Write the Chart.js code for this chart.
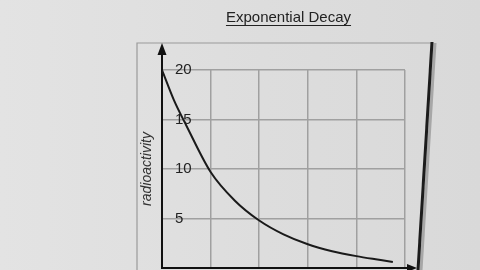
<!DOCTYPE html>
<html>
<head>
<meta charset="utf-8">
<script src="https://cdn.jsdelivr.net/npm/chart.js@4"></script>
<style>
html, body { margin: 0; padding: 0; }
body {
    width: 480px; height: 270px; overflow: hidden;
    background: linear-gradient(90deg, #e3e3e3 0%, #dddddd 55%, #d9d9d9 100%);
}
</style>
</head>
<body>
<canvas id="grafico" width="480" height="270"></canvas>
<script>
// dados
const tempo = [0, 0.25, 0.5, 1, 1.5, 2, 2.5, 3, 3.5, 4, 4.5, 4.75];
const atividade = [20, 16.9, 14.4, 9.7, 6.8, 4.8, 3.4, 2.4, 1.7, 1.2, 0.8, 0.6];
const yTicks = [5, 10, 15, 20];
const titulo = 'Exponential Decay';
const tituloY = 'radioactivity';

const fonte = 'Liberation Sans, Arial, sans-serif';

// moldura, setas e titulo sublinhado
const extras = {
    id: 'extras',
    beforeDraw(chart) {
        const { ctx, chartArea: a } = chart;
        ctx.save();
        ctx.strokeStyle = '#9a9a9a';
        ctx.lineWidth = 1.2;
        ctx.beginPath();
        ctx.moveTo(a.left - 25, chart.height);
        ctx.lineTo(a.left - 25, a.top - 27);
        ctx.lineTo(a.right + 27, a.top - 27);
        ctx.stroke();
        ctx.restore();
    },
    afterDraw(chart) {
        const { ctx, chartArea: a } = chart;
        ctx.save();
        // seta do eixo y
        ctx.strokeStyle = '#111';
        ctx.fillStyle = '#111';
        ctx.lineWidth = 2;
        ctx.beginPath();
        ctx.moveTo(a.left, a.top);
        ctx.lineTo(a.left, a.top - 18);
        ctx.stroke();
        ctx.beginPath();
        ctx.moveTo(a.left, a.top - 27);
        ctx.lineTo(a.left - 4.5, a.top - 15);
        ctx.lineTo(a.left + 4.5, a.top - 15);
        ctx.closePath();
        ctx.fill();
        // seta do eixo x
        ctx.beginPath();
        ctx.moveTo(a.right, a.bottom);
        ctx.lineTo(a.right + 4, a.bottom);
        ctx.stroke();
        ctx.beginPath();
        ctx.moveTo(a.right + 12, a.bottom);
        ctx.lineTo(a.right + 2, a.bottom - 4);
        ctx.lineTo(a.right + 2, a.bottom + 4);
        ctx.closePath();
        ctx.fill();
        // borda escura da folha
        ctx.strokeStyle = 'rgba(90,90,90,0.4)';
        ctx.lineWidth = 3;
        ctx.beginPath();
        ctx.moveTo(a.right + 30, a.top - 27);
        ctx.lineTo(a.right + 16, chart.height);
        ctx.stroke();
        ctx.strokeStyle = '#1c1c1c';
        ctx.lineWidth = 3;
        ctx.beginPath();
        ctx.moveTo(a.right + 27, a.top - 28);
        ctx.lineTo(a.right + 13, chart.height);
        ctx.stroke();
        // titulo
        const cx = (a.left + a.right) / 2 + 5;
        ctx.font = '15px ' + fonte;
        ctx.fillStyle = '#222';
        ctx.textAlign = 'center';
        ctx.textBaseline = 'alphabetic';
        ctx.fillText(titulo, cx, 22);
        const w = ctx.measureText(titulo).width;
        ctx.strokeStyle = '#222';
        ctx.lineWidth = 1.2;
        ctx.beginPath();
        ctx.moveTo(cx - w / 2, 25.5);
        ctx.lineTo(cx + w / 2, 25.5);
        ctx.stroke();
        ctx.restore();
    }
};

const ctx = document.getElementById('grafico').getContext('2d');
const grafico = new Chart(ctx, {
    type: 'line',
    data: {
        datasets: [{
            data: tempo.map((t, i) => ({ x: t, y: atividade[i] })),
            borderColor: '#1a1a1a',
            borderWidth: 2,
            pointRadius: 0,
            cubicInterpolationMode: 'monotone',
            fill: false
        }]
    },
    options: {
        responsive: false,
        animation: false,
        layout: { padding: { left: 137, top: 70, right: 75, bottom: 0 } },
        plugins: {
            legend: { display: false },
            tooltip: { enabled: false }
        },
        scales: {
            x: {
                type: 'linear',
                min: 0,
                max: 5,
                ticks: { display: false, stepSize: 1 },
                grid: { color: '#a0a0a0', lineWidth: 1.5, drawTicks: false },
                border: { color: '#111', width: 2 },
                afterFit: s => { s.height = 2; }
            },
            y: {
                min: 0,
                max: 20,
                afterBuildTicks: s => { s.ticks = yTicks.map(v => ({ value: v })); },
                ticks: {
                    mirror: true,
                    padding: 13,
                    color: '#222',
                    font: { family: fonte, size: 15 }
                },
                grid: { color: '#a0a0a0', lineWidth: 1.5, drawTicks: false },
                border: { color: '#111', width: 2 },
                title: {
                    display: true,
                    text: tituloY,
                    color: '#333',
                    padding: { top: 2, bottom: 0 },
                    font: { family: fonte, size: 14, style: 'italic' }
                },
                afterFit: s => { s.width = 25; s.paddingTop = 0; s.paddingBottom = 0; }
            }
        }
    },
    plugins: [extras]
});
</script>
</body>
</html>
